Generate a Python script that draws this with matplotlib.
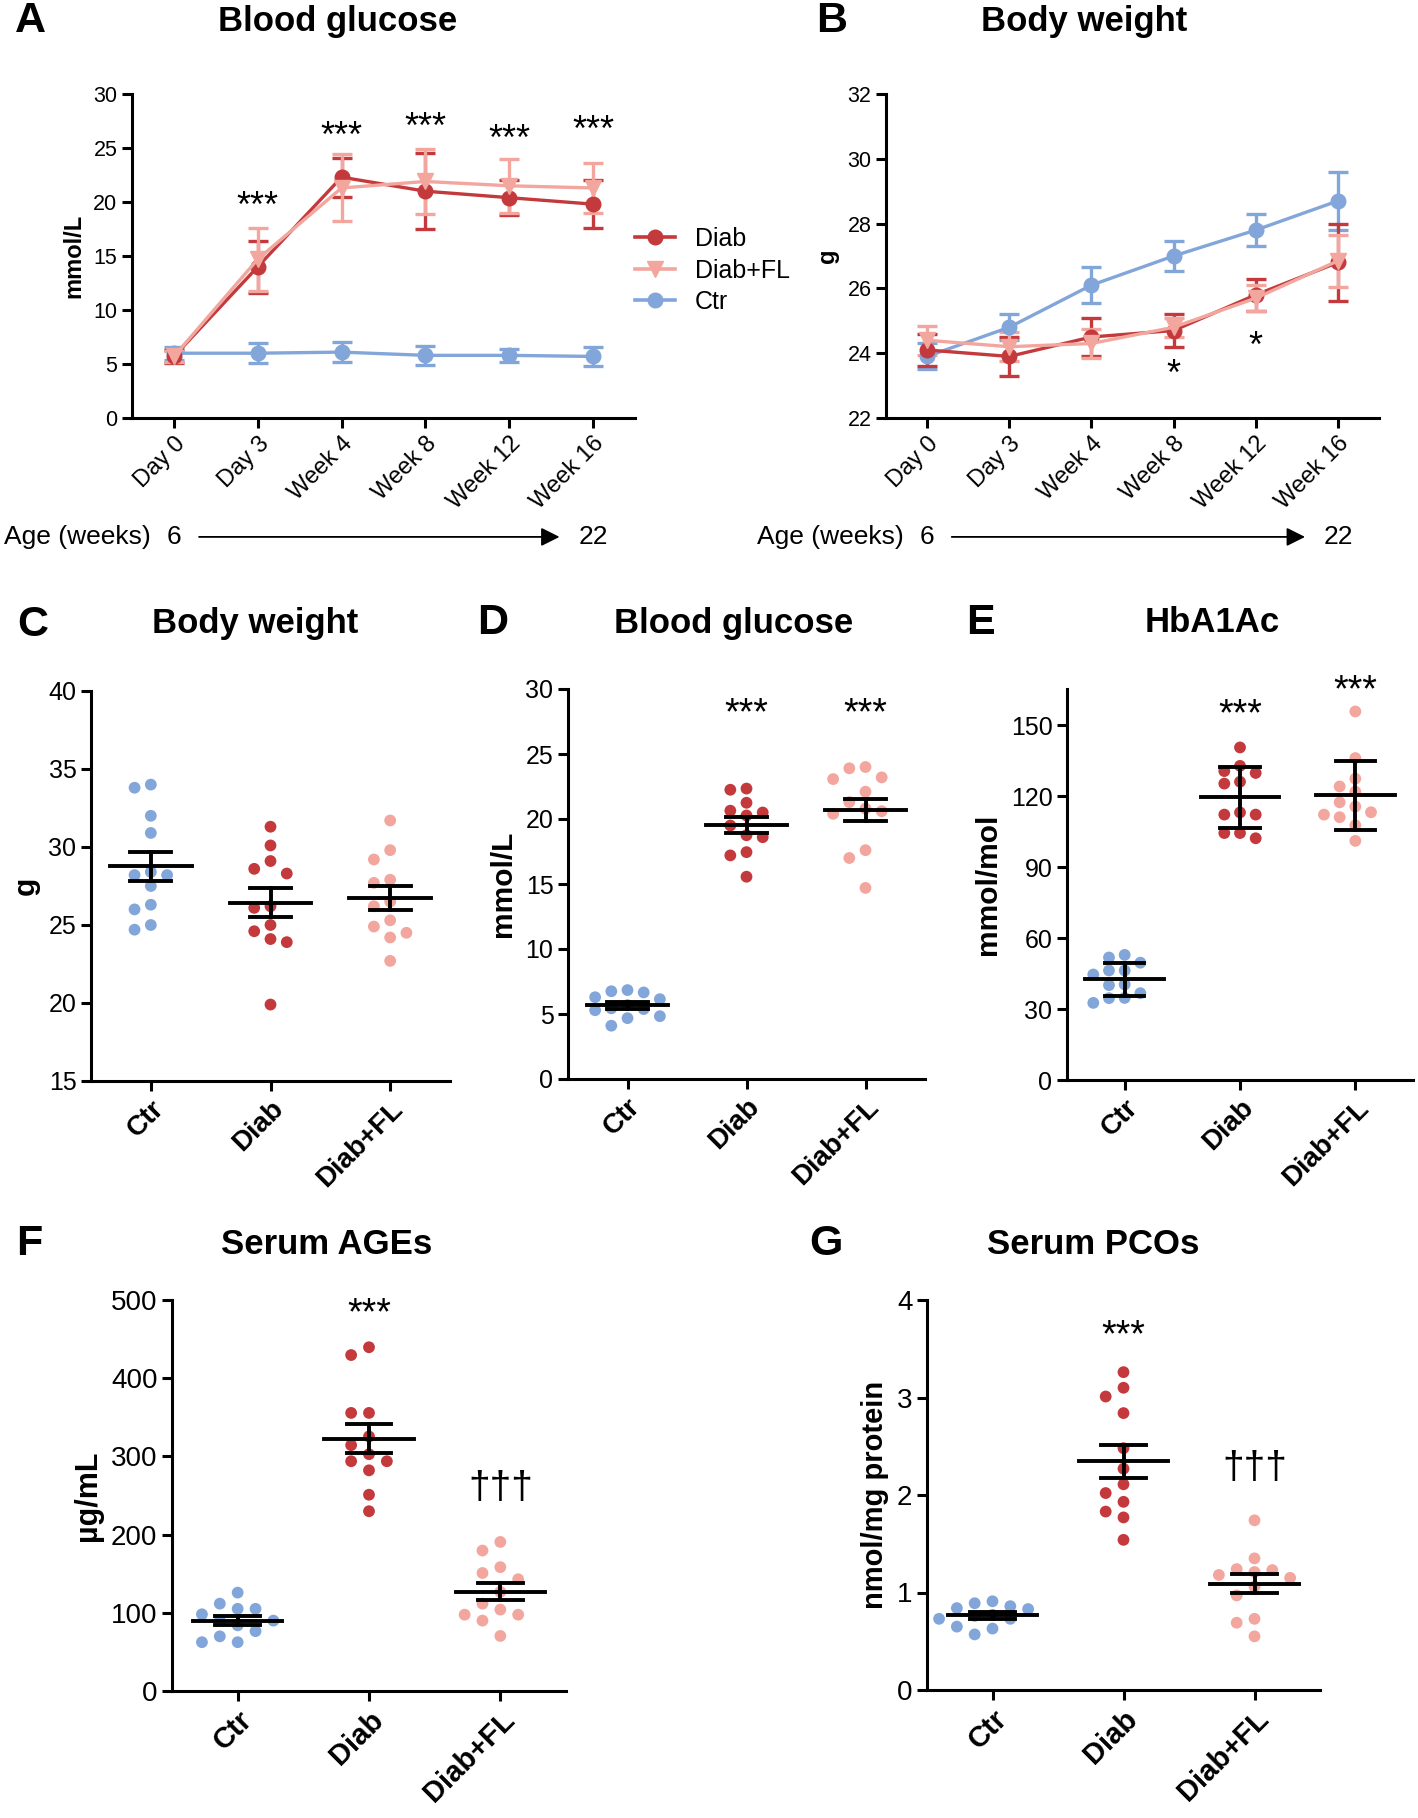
import numpy as np
import matplotlib
matplotlib.use('Agg')
import matplotlib.pyplot as plt
from matplotlib.lines import Line2D
from matplotlib.transforms import blended_transform_factory

plt.rcParams['font.family'] = ['Liberation Sans', 'DejaVu Sans']

W, H = 1418, 1818

blue = '#82A6DA'
red = '#C3393C'
pink = '#F2A69E'

groups = ['Ctr', 'Diab', 'Diab+FL']
timepoints = ['Day 0', 'Day 3', 'Week 4', 'Week 8', 'Week 12', 'Week 16']

# A: blood glucose over time (mean, sem)
glu_diab = [5.7, 14.0, 22.3, 21.0, 20.4, 19.8]
glu_diab_err = [0.6, 2.4, 1.8, 3.5, 1.6, 2.2]
glu_fl = [5.7, 14.7, 21.3, 21.9, 21.5, 21.3]
glu_fl_err = [0.5, 2.9, 3.1, 3.0, 2.5, 2.3]
glu_ctr = [6.0, 6.0, 6.1, 5.8, 5.8, 5.7]
glu_ctr_err = [0.6, 0.9, 0.9, 0.9, 0.6, 0.9]
glu_star_y = [None, 19.5, 26.0, 26.8, 25.7, 26.5]

# B: body weight over time
bw_diab = [24.1, 23.9, 24.5, 24.7, 25.8, 26.8]
bw_diab_err = [0.5, 0.6, 0.6, 0.5, 0.5, 1.2]
bw_fl = [24.4, 24.2, 24.3, 24.8, 25.7, 26.85]
bw_fl_err = [0.45, 0.45, 0.45, 0.3, 0.4, 0.8]
bw_ctr = [23.9, 24.8, 26.1, 27.0, 27.8, 28.7]
bw_ctr_err = [0.4, 0.4, 0.55, 0.45, 0.5, 0.9]
bw_star_y = [None, None, None, 23.3, 24.17, None]

# C: body weight, individual animals
c_ctr = [34.0, 33.8, 32.0, 30.9, 28.4, 28.2, 28.2, 27.5, 26.3, 26.0, 25.0, 24.7]
c_diab = [31.3, 30.1, 29.1, 28.6, 28.3, 26.2, 26.1, 25.0, 24.6, 24.1, 23.9, 19.9]
c_fl = [31.7, 29.8, 29.2, 27.9, 27.7, 26.5, 26.2, 25.3, 24.9, 24.5, 24.2, 22.7]

# D: blood glucose
d_ctr = [6.84, 6.75, 6.66, 6.29, 6.14, 5.68, 5.44, 5.38, 5.29, 4.83, 4.68, 4.10]
d_diab = [22.34, 22.25, 21.25, 20.64, 20.5, 20.27, 19.5, 18.75, 18.6, 17.45, 17.2, 15.56]
d_fl = [24.0, 23.9, 23.2, 23.07, 22.1, 21.3, 20.8, 20.6, 20.4, 17.6, 17.0, 14.7]

# E: HbA1Ac
e_ctr = [52.9, 51.8, 49.6, 46.3, 46.3, 44.6, 40.4, 40.1, 36.7, 34.7, 34.6, 32.6]
e_diab = [140.6, 132.8, 130.6, 129.8, 126.1, 125.3, 113.1, 112.2, 112.2, 104.4, 104.4, 102.2]
e_fl = [155.8, 136.1, 127.4, 124.1, 121.9, 117.4, 115.6, 113.2, 112.2, 111.1, 107.7, 101.1]

# F: serum AGEs
f_ctr = [125.8, 111.7, 105.1, 105.1, 98.1, 90.0, 90.0, 84.0, 76.5, 69.9, 62.4, 62.4]
f_diab = [439.6, 429.6, 355.6, 355.6, 325.5, 314.4, 302.8, 293.8, 293.8, 282.2, 251.0, 229.9]
f_fl = [190.6, 179.6, 158.4, 150.9, 142.9, 126.8, 111.7, 104.1, 97.6, 97.6, 90.0, 70.4]

# G: serum PCOs
g_ctr = [0.91, 0.89, 0.86, 0.84, 0.83, 0.77, 0.76, 0.73, 0.73, 0.65, 0.63, 0.57]
g_diab = [3.26, 3.10, 3.01, 2.84, 2.48, 2.27, 2.11, 2.02, 1.93, 1.83, 1.77, 1.54]
g_fl = [1.74, 1.35, 1.24, 1.23, 1.21, 1.18, 1.15, 1.06, 0.97, 0.73, 0.69, 0.55]


def box(l, t, r, b):
    return [l / W, 1 - b / H, (r - l) / W, (b - t) / H]


def style(ax, lw=2.2):
    for s in ['top', 'right']:
        ax.spines[s].set_visible(False)
    for s in ['left', 'bottom']:
        ax.spines[s].set_linewidth(lw)
    ax.tick_params(width=lw, length=7, direction='out')


def swarm(vals, px_per_unit, step=0.136, dot_px=12.5):
    thr = dot_px / px_per_unit
    placed = []
    offs = []
    for v in vals:
        for c in [0, -1, 1, -2, 2, -3, 3]:
            if all(abs(v - pv) >= thr for pc, pv in placed if pc == c):
                break
        placed.append((c, v))
        offs.append(c * step)
    return np.array(offs)


def fig_label(x, y, s, size):
    fig.text(x / W, 1 - y / H, s, fontsize=size, fontweight='bold',
             ha='center', va='center')


fig = plt.figure(figsize=(W / 100, H / 100), dpi=100)


# ---------- line panels ----------
def line_panel(rect, diab, diab_e, fl, fl_e, ctr, ctr_e, ylim, yticks,
               ylabel, star_y, legend=False):
    ax = fig.add_axes(rect)
    x = np.arange(len(timepoints))
    kw = dict(lw=2.4, capsize=7, capthick=2.4, elinewidth=2.4)
    ax.errorbar(x, ctr, yerr=ctr_e, fmt='-o', color=blue, ms=10.5, **kw)
    ax.errorbar(x, diab, yerr=diab_e, fmt='-o', color=red, ms=10.5, **kw)
    ax.errorbar(x, fl, yerr=fl_e, fmt='-v', color=pink, ms=11, **kw)
    ax.set_xlim(-0.5, 5.5)
    ax.set_ylim(*ylim)
    ax.set_yticks(yticks)
    ax.set_xticks(x)
    ax.set_xticklabels(timepoints, fontsize=17)
    plt.setp(ax.get_xticklabels(), rotation=45, ha='right', rotation_mode='anchor')
    ax.tick_params(axis='y', labelsize=15.5)
    ax.set_ylabel(ylabel, fontsize=17, fontweight='bold', labelpad=6)
    style(ax)
    for i, sy in enumerate(star_y):
        if sy is not None:
            ax.text(i, sy, '***' if ylim[1] == 30 else '*', fontsize=26,
                    ha='center', va='center')
    tr = blended_transform_factory(ax.transData, ax.transAxes)
    ax.text(-0.28, -0.367, 'Age (weeks)', transform=tr, fontsize=19,
            ha='right', va='center')
    ax.text(0, -0.367, '6', transform=tr, fontsize=19, ha='center', va='center')
    ax.text(5, -0.367, '22', transform=tr, fontsize=19, ha='center', va='center')
    ax.annotate('', xy=(4.6, -0.367), xytext=(0.3, -0.367), xycoords=tr,
                textcoords=tr, annotation_clip=False,
                arrowprops=dict(arrowstyle='-|>', lw=1.3, color='black',
                                mutation_scale=28, shrinkA=0, shrinkB=0))
    if legend:
        handles = [Line2D([], [], color=red, marker='o', ms=10.5, lw=2.6),
                   Line2D([], [], color=pink, marker='v', ms=11, lw=2.6),
                   Line2D([], [], color=blue, marker='o', ms=10.5, lw=2.6)]
        ax.legend(handles, ['Diab', 'Diab+FL', 'Ctr'],
                  loc='center left', bbox_to_anchor=(0.955, 0.455),
                  frameon=False, fontsize=18, handlelength=1.6,
                  handletextpad=0.8, labelspacing=0.3)
    return ax


line_panel(box(132, 94, 635, 418), glu_diab, glu_diab_err, glu_fl, glu_fl_err,
           glu_ctr, glu_ctr_err, (0, 30), range(0, 31, 5), 'mmol/L',
           glu_star_y, legend=True)
line_panel(box(886, 94, 1379, 418), bw_diab, bw_diab_err, bw_fl, bw_fl_err,
           bw_ctr, bw_ctr_err, (22, 32), range(22, 33, 2), 'g', bw_star_y)


# ---------- dot panels ----------
def dot_panel(rect, data, ylim, yticks, ylabel, err='sem', marks=None,
              tick_fs=18, cat_fs=20, lab_fs=21.5):
    ax = fig.add_axes(rect)
    hpx = rect[3] * H
    ppu = hpx / (ylim[1] - ylim[0])
    for i, (vals, col) in enumerate(zip(data, [blue, red, pink])):
        vals = np.array(vals)
        xs = i + swarm(vals, ppu)
        ax.scatter(xs, vals, s=72, color=col, edgecolors='none', zorder=2,
                   clip_on=False)
        m = vals.mean()
        e = vals.std(ddof=1)
        if err == 'sem':
            e = e / np.sqrt(len(vals))
        ax.plot([i - 0.34, i + 0.34], [m, m], color='black', lw=2.8, zorder=3)
        ax.plot([i - 0.17, i + 0.17], [m + e, m + e], color='black', lw=2.8, zorder=3)
        ax.plot([i - 0.17, i + 0.17], [m - e, m - e], color='black', lw=2.8, zorder=3)
        ax.plot([i, i], [m - e, m + e], color='black', lw=2.8, zorder=3)
    ax.set_xlim(-0.5, 2.5)
    ax.set_ylim(*ylim)
    ax.set_yticks(yticks)
    ax.set_xticks(range(3))
    ax.set_xticklabels(groups, fontsize=cat_fs, fontweight='bold')
    plt.setp(ax.get_xticklabels(), rotation=45, ha='right', rotation_mode='anchor')
    ax.tick_params(axis='y', labelsize=tick_fs)
    ax.set_ylabel(ylabel, fontsize=lab_fs, fontweight='bold', labelpad=6)
    style(ax)
    if marks:
        for i, s, y, fs in marks:
            ax.text(i, y, s, fontsize=fs, ha='center', va='center', clip_on=False)
    return ax


dot_panel(box(91, 691, 450, 1081), [c_ctr, c_diab, c_fl], (15, 40),
          range(15, 41, 5), 'g')
dot_panel(box(568, 689, 925, 1079), [d_ctr, d_diab, d_fl], (0, 30),
          range(0, 31, 5), 'mmol/L',
          marks=[(1, '***', 28.05, 27), (2, '***', 28.05, 27)])
dot_panel(box(1067, 689, 1413, 1080), [e_ctr, e_diab, e_fl], (0, 165.3),
          range(0, 151, 30), 'mmol/mol', err='sd',
          marks=[(1, '***', 154, 27), (2, '***', 164.5, 27)])
dot_panel(box(172, 1300, 566, 1691), [f_ctr, f_diab, f_fl], (0, 500),
          range(0, 501, 100), 'µg/mL',
          marks=[(1, '***', 482, 27), (2, '†††', 260, 28)],
          tick_fs=20, cat_fs=21, lab_fs=22)
dot_panel(box(927, 1300, 1320, 1690), [g_ctr, g_diab, g_fl], (0, 4),
          range(0, 5), 'nmol/mg protein',
          marks=[(1, '***', 3.63, 27), (2, '†††', 2.28, 28)],
          tick_fs=20, cat_fs=21, lab_fs=21)

# titles and panel letters
titles = [('Blood glucose', 338, 21), ('Body weight', 1084, 21),
          ('Body weight', 255, 623), ('Blood glucose', 734, 623),
          ('HbA1Ac', 1212, 623), ('Serum AGEs', 327, 1244),
          ('Serum PCOs', 1093, 1244)]
for s, x, y in titles:
    fig_label(x, y, s, 25)
letters = [('A', 30, 21), ('B', 832, 21), ('C', 33, 625), ('D', 493, 623),
           ('E', 980, 623), ('F', 29, 1244), ('G', 826, 1244)]
for s, x, y in letters:
    fig_label(x, y, s, 31)

fig.savefig('out.png', dpi=100)
